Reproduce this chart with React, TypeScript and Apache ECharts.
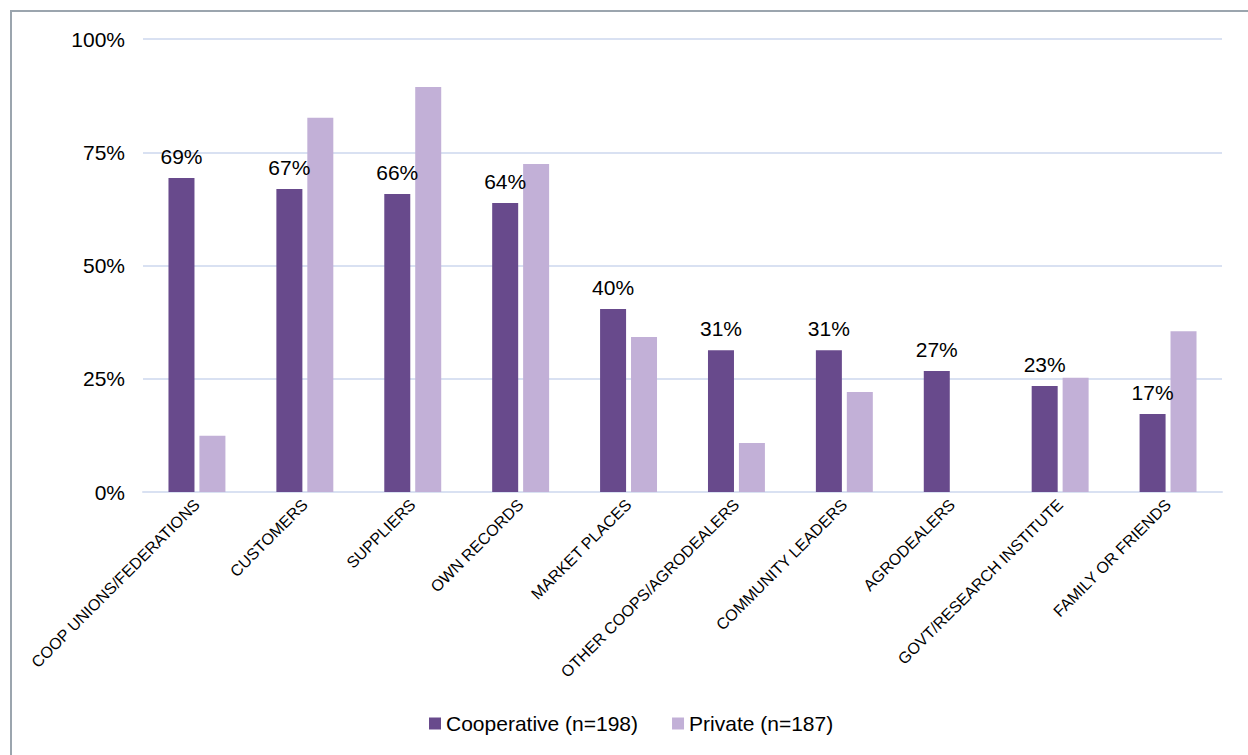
import React, { useEffect, useRef } from "react";
import * as echarts from "echarts";

const categories = [
  "COOP UNIONS/FEDERATIONS",
  "CUSTOMERS",
  "SUPPLIERS",
  "OWN RECORDS",
  "MARKET PLACES",
  "OTHER COOPS/AGRODEALERS",
  "COMMUNITY LEADERS",
  "AGRODEALERS",
  "GOVT/RESEARCH INSTITUTE",
  "FAMILY OR FRIENDS",
];
const cooperative = [69.3, 66.9, 65.8, 63.8, 40.4, 31.3, 31.3, 26.7, 23.4, 17.2];
const privateVals = [12.4, 82.6, 89.4, 72.4, 34.2, 10.8, 22.1, 0, 25.2, 35.5];
const seriesNames = ["Cooperative (n=198)", "Private (n=187)"];
const yTicks = [0, 25, 50, 75, 100];

export default function App() {
  const ref = useRef<HTMLDivElement>(null);
  useEffect(() => {
    if (!ref.current) return;
    const chart = echarts.init(ref.current, undefined, { renderer: "svg" });
    chart.setOption({
      animation: false,
      backgroundColor: "#ffffff",
      textStyle: { fontFamily: "Liberation Sans, Arial, sans-serif" },
      graphic: [
        {
          type: "rect",
          shape: { x: 11, y: 11, width: 1400, height: 900 },
          style: { fill: "none", stroke: "#9ba5ae", lineWidth: 2 },
          silent: true,
        },
      ],
      legend: {
        top: 708,
        left: 424,
        itemWidth: 12,
        itemHeight: 12,
        itemGap: 34,
        icon: "rect",
        textStyle: { fontSize: 21, color: "#000" },
        data: seriesNames,
      },
      grid: { left: 143, right: 26, top: 39, bottom: 263, containLabel: false },
      xAxis: {
        type: "category",
        data: categories,
        axisLine: { show: true, lineStyle: { color: "#d9e1f2", width: 2 } },
        axisTick: { show: false },
        axisLabel: {
          rotate: 45,
          interval: 0,
          fontSize: 16,
          color: "#000",
          margin: 10,
        },
      },
      yAxis: {
        type: "value",
        min: 0,
        max: 100,
        interval: 25,
        axisLine: { show: false },
        axisTick: { show: false },
        splitLine: { lineStyle: { color: "#d9e1f2", width: 2 } },
        axisLabel: {
          fontSize: 21,
          color: "#000",
          margin: 18,
          formatter: (v: number) => (yTicks.includes(v) ? v + "%" : ""),
        },
      },
      series: [
        {
          name: seriesNames[0],
          type: "bar",
          data: cooperative,
          barWidth: 26,
          barGap: "19%",
          itemStyle: { color: "#684a8c" },
          label: {
            show: true,
            position: "top",
            distance: 11,
            fontSize: 21,
            color: "#000",
            formatter: (p: any) => Math.round(p.value) + "%",
          },
        },
        {
          name: seriesNames[1],
          type: "bar",
          data: privateVals,
          barWidth: 26,
          barGap: "19%",
          itemStyle: { color: "#c2b0d7" },
        },
      ],
    });
    return () => chart.dispose();
  }, []);
  return (
    <div
      ref={ref}
      style={{ position: "absolute", left: 0, top: 0, width: 1248, height: 755 }}
    />
  );
}
